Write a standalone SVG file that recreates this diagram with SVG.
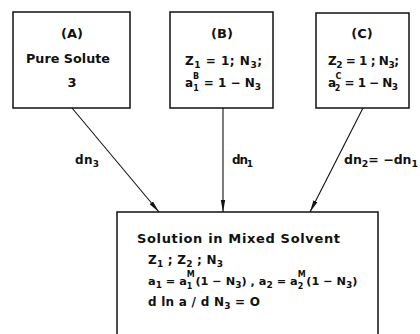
<svg xmlns="http://www.w3.org/2000/svg" width="420" height="334" viewBox="0 0 420 334">
<style>
.box{fill:none;stroke:#111;stroke-width:1.5}
.t{font-family:"DejaVu Sans",sans-serif;font-weight:bold;font-size:12px;fill:#111}
.h{font-size:13px}
.m{font-size:11.3px}
.c{text-anchor:middle}
.s{font-size:9px}
.u{font-size:8px}
.e{stroke:#111;stroke-width:1.1;fill:none}
</style>
<defs>
<marker id="ah" viewBox="0 0 12 6" refX="12" refY="3" markerWidth="12" markerHeight="6" markerUnits="userSpaceOnUse" orient="auto">
<path d="M0,0.8 L12,3 L0,5.2 Z" fill="#111"/>
</marker>
</defs>
<rect width="420" height="334" fill="#fff"/>
<g id="nodeA">
<rect class="box" x="13" y="12" width="117" height="96"/>
<text class="t h c" x="72" y="38">(A)</text>
<text class="t h" x="26" y="63" textLength="84" lengthAdjust="spacingAndGlyphs">Pure Solute</text>
<text class="t h c" x="72" y="87">3</text>
</g>
<g id="nodeB">
<rect class="box" x="170" y="12" width="103" height="96"/>
<text class="t h c" x="222" y="38">(B)</text>
<text class="t" x="185" y="65" textLength="77" lengthAdjust="spacing">Z<tspan class="s" dy="3">1</tspan><tspan dy="-3"> = 1; N</tspan><tspan class="s" dy="3">3</tspan><tspan dy="-3">;</tspan></text>
<text class="t" x="185" y="87" textLength="76" lengthAdjust="spacing">a<tspan class="u" dy="-8">B</tspan><tspan class="u" dx="-6" dy="12">1</tspan><tspan dx="1" dy="-4"> = 1 − N</tspan><tspan class="s" dy="3">3</tspan></text>
</g>
<g id="nodeC">
<rect class="box" x="316" y="13" width="93" height="95"/>
<text class="t h c" x="362" y="38">(C)</text>
<text class="t" x="328" y="65" textLength="71" lengthAdjust="spacing">Z<tspan class="s" dy="3">2</tspan><tspan dy="-3"> = 1 ; N</tspan><tspan class="s" dy="3">3</tspan><tspan dy="-3">;</tspan></text>
<text class="t" x="328" y="87" textLength="70" lengthAdjust="spacing">a<tspan class="u" dy="-8">C</tspan><tspan class="u" dx="-6" dy="12">2</tspan><tspan dx="1" dy="-4"> = 1 − N</tspan><tspan class="s" dy="3">3</tspan></text>
</g>
<g id="nodeM">
<path class="box" d="M117,340 V212 H378 V340"/>
<text class="t h" x="137" y="243" textLength="203" lengthAdjust="spacing">Solution in Mixed Solvent</text>
<text class="t" x="148" y="264" textLength="75" lengthAdjust="spacing">Z<tspan class="s" dy="3">1</tspan><tspan dy="-3"> ; Z</tspan><tspan class="s" dy="3">2</tspan><tspan dy="-3"> ; N</tspan><tspan class="s" dy="3">3</tspan></text>
<text class="t m" x="148" y="285">a<tspan class="s" dy="3">1</tspan><tspan dy="-3"> = a</tspan><tspan class="u" dy="-8">M</tspan><tspan class="u" dx="-8" dy="12">1</tspan><tspan dx="3" dy="-4">(1 − N</tspan><tspan class="s" dy="3">3</tspan><tspan dy="-3">) , a</tspan><tspan class="s" dy="3">2</tspan><tspan dy="-3"> = a</tspan><tspan class="u" dy="-8">M</tspan><tspan class="u" dx="-8" dy="12">2</tspan><tspan dx="3" dy="-4">(1 − N</tspan><tspan class="s" dy="3">3</tspan><tspan dy="-3">)</tspan></text>
<text class="t" x="148" y="306" textLength="112" lengthAdjust="spacing">d ln a / d N<tspan class="s" dy="3">3</tspan><tspan dy="-3"> = O</tspan></text>
</g>
<g id="connectors">
<line class="e" x1="72" y1="108" x2="159" y2="212" marker-end="url(#ah)"/>
<line class="e" x1="223" y1="108" x2="223" y2="212" marker-end="url(#ah)"/>
<line class="e" x1="363" y1="108" x2="310" y2="212" marker-end="url(#ah)"/>
<text class="t" x="75" y="164" textLength="24" lengthAdjust="spacing">dn<tspan class="s" dy="3">3</tspan></text>
<text class="t" x="232" y="164" textLength="21" lengthAdjust="spacing">dn<tspan class="s" dy="3">1</tspan></text>
<text class="t" x="344" y="164" textLength="74" lengthAdjust="spacingAndGlyphs">dn<tspan class="s" dy="3">2</tspan><tspan dy="-3">= −dn</tspan><tspan class="s" dy="3">1</tspan></text>
</g>
</svg>
